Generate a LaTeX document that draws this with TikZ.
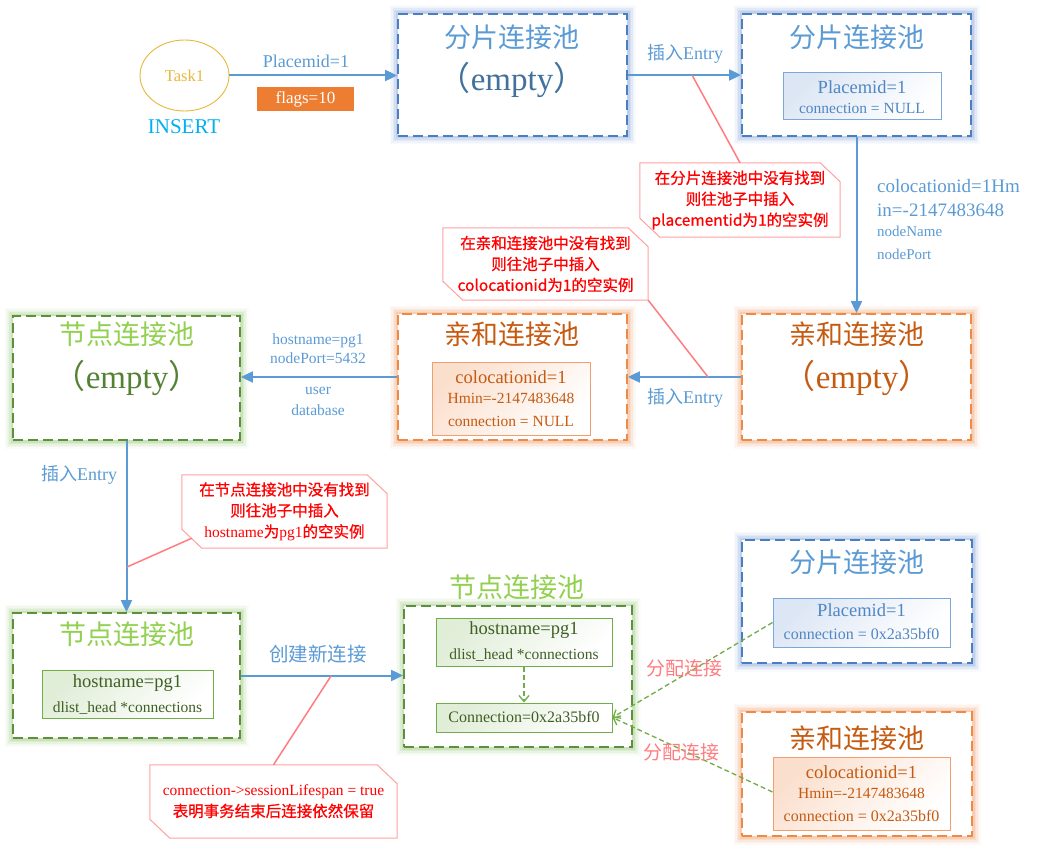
\documentclass[tikz,border=0pt]{standalone}
\usepackage{fontspec}
\setmainfont{Liberation Serif}
\newfontfamily\cjk{Noto Sans CJK SC}
\newfontfamily\cjknote{Noto Sans CJK SC}[FakeBold=0.8]
\usetikzlibrary{arrows.meta,calc,shapes.geometric}

\newcommand\fsz[1]{\fontsize{#1pt}{#1pt}\selectfont}

\definecolor{flowblue}{HTML}{5B9BD5}
\definecolor{bluebd}{HTML}{4A7EC0}
\definecolor{blueglow}{HTML}{8EADE0}
\definecolor{bluetitle}{HTML}{5B9BD5}
\definecolor{blueempty}{HTML}{41719C}
\definecolor{blueinbd}{HTML}{7BA7D9}
\definecolor{blueinfill}{HTML}{DCE6F4}
\definecolor{blueintext}{HTML}{5086C4}
\definecolor{orangebd}{HTML}{EE8A45}
\definecolor{orangeglow}{HTML}{F4A878}
\definecolor{orangetext}{HTML}{C55A11}
\definecolor{orangeinbd}{HTML}{F0A070}
\definecolor{orangeinfill}{HTML}{FBDFCD}
\definecolor{greenbd}{HTML}{5E8F3E}
\definecolor{greenglow}{HTML}{A5CF85}
\definecolor{greentitle}{HTML}{92D050}
\definecolor{greenempty}{HTML}{548235}
\definecolor{greeninbd}{HTML}{70AD47}
\definecolor{greeninfill}{HTML}{E0EDD7}
\definecolor{greenintext}{HTML}{3F5F24}
\definecolor{pinkline}{HTML}{FF7C80}
\definecolor{calloutbd}{HTML}{FFA0A0}
\definecolor{taskgold}{HTML}{E8B83A}
\definecolor{insertcyan}{HTML}{00B0F0}
\definecolor{flagorange}{HTML}{ED7D31}
\definecolor{assignpink}{HTML}{FF7C80}

\tikzset{
  flow/.style={draw=flowblue, line width=2pt, -{Triangle[length=12pt,width=11pt]}},
  poolbase/.style={rectangle, inner sep=0pt, fill=white, line width=1.8pt,
    dash pattern=on 10pt off 5pt},
  % soft halo round a pool: a few wide, faint strokes under the dashed frame
  glowing/.style={
    preaction={draw=#1, solid, line width=17pt, draw opacity=.06},
    preaction={draw=#1, solid, line width=14pt, draw opacity=.08},
    preaction={draw=#1, solid, line width=11pt, draw opacity=.12},
    preaction={draw=#1, solid, line width=8pt, draw opacity=.18},
    preaction={draw=#1, solid, line width=5pt, draw opacity=.28}},
  bluepool/.style={poolbase, glowing=blueglow, draw=bluebd},
  orangepool/.style={poolbase, glowing=orangeglow, draw=orangebd},
  greenpool/.style={poolbase, glowing=greenglow, draw=greenbd},
  innerbase/.style={rectangle, inner sep=0pt, line width=1pt},
  blueinner/.style={innerbase, draw=blueinbd, top color=blueinfill, bottom color=white, shading angle=45},
  orangeinner/.style={innerbase, draw=orangeinbd, top color=orangeinfill, bottom color=white, shading angle=45},
  greeninner/.style={innerbase, draw=greeninbd, top color=greeninfill, bottom color=white, shading angle=45},
  btitle/.style={text=bluetitle, font=\cjk\fsz{27}},
  otitle/.style={text=orangetext, font=\cjk\fsz{27}},
  gtitle/.style={text=greentitle, font=\cjk\fsz{27}},
  emptytxt/.style={font=\fsz{33}},
  bigline/.style={font=\fsz{18.5}},
  smallline/.style={font=\fsz{15.5}},
  flowlabel/.style={text=flowblue, font=\fsz{18}},
  notelabel/.style={text=flowblue, font=\fsz{15.5}},
  callout/.style={rectangle, inner sep=0pt, text=red, align=center,
    font=\cjknote\fontsize{15.5pt}{21pt}\selectfont},
  calloutline/.style={draw=calloutbd, line width=1pt},
  pinkconn/.style={draw=pinkline, line width=1.5pt},
  assign/.style={draw=greeninbd, line width=1.3pt, dash pattern=on 5pt off 3pt,
    -{Straight Barb[length=6pt,width=10pt]}},
  assignlabel/.style={text=assignpink, font=\cjk\fsz{19}},
  every node/.style={inner sep=0pt}
}

\begin{document}
\begin{tikzpicture}[x=1pt,y=-1pt]
\useasboundingbox (0,0) rectangle (1038,850);
\fill[white] (0,0) rectangle (1038,850);

% ---- connection pools ----
\node[bluepool, minimum width=229pt, minimum height=122pt] (b1) at (512.5,75) {};
\node[bluepool, minimum width=229pt, minimum height=122pt] (b2) at (856.5,75) {};
\node[orangepool, minimum width=229pt, minimum height=126pt] (b3) at (512.5,377) {};
\node[orangepool, minimum width=229pt, minimum height=126pt] (b4) at (856.5,377) {};
\node[greenpool, minimum width=227pt, minimum height=124pt] (b5) at (126.5,378) {};
\node[greenpool, minimum width=227pt, minimum height=125pt] (b6) at (126.5,675.5) {};
\node[greenpool, minimum width=228pt, minimum height=141pt] (b7) at (518,676.5) {};
\node[bluepool, minimum width=230pt, minimum height=123pt] (b8) at (857,601.5) {};
\node[orangepool, minimum width=230pt, minimum height=124pt] (b9) at (857,774) {};

% ---- pool titles ----
\node[btitle] (b1t) at (512,37) {分片连接池};
\node[btitle] (b2t) at (857,37) {分片连接池};
\node[otitle] (b3t) at (512,334) {亲和连接池};
\node[otitle] (b4t) at (857,334) {亲和连接池};
\node[gtitle] (b5t) at (127,334) {节点连接池};
\node[gtitle] (b6t) at (127,634) {节点连接池};
\node[gtitle] (b7t) at (517,587) {节点连接池};
\node[btitle] (b8t) at (857,562) {分片连接池};
\node[otitle] (b9t) at (857,738) {亲和连接池};

% ---- empty pools ----
\node[emptytxt, text=blueempty] (b1e) at (512,80) {{\cjk （}empty{\cjk ）}};
\node[emptytxt, text=orangetext] (b4e) at (857,378) {{\cjk （}empty{\cjk ）}};
\node[emptytxt, text=greenempty] (b5e) at (127,378) {{\cjk （}empty{\cjk ）}};

% ---- entries ----
\node[blueinner, minimum width=158pt, minimum height=47pt] (i2) at (862,96.5) {};
\node[bigline, text=blueintext] (i2a) at (862,87) {Placemid=1};
\node[smallline, text=blueintext] (i2b) at (862,108) {connection = NULL};

\node[orangeinner, minimum width=158pt, minimum height=73pt] (i3) at (511,398.5) {};
\node[bigline, text=orangetext] (i3a) at (511,377) {colocationid=1};
\node[smallline, text=orangetext] (i3b) at (511,398) {Hmin=-2147483648};
\node[smallline, text=orangetext] (i3c) at (511,421) {connection = NULL};

\node[greeninner, minimum width=171pt, minimum height=48pt] (i6) at (127.5,694) {};
\node[bigline, text=greenintext] (i6a) at (127.5,683) {hostname=pg1};
\node[smallline, text=greenintext] (i6b) at (127.5,708) {dlist\_head *connections};

\node[greeninner, minimum width=176pt, minimum height=48pt] (i7a) at (524,642) {};
\node[bigline, text=greenintext] (i7a1) at (524,630) {hostname=pg1};
\node[smallline, text=greenintext] (i7a2) at (524,655) {dlist\_head *connections};
\node[greeninner, minimum width=176pt, minimum height=29pt] (i7b) at (524,717.5) {};
\node[font=\fsz{16}, text=greenintext] (i7b1) at (524,717) {Connection=0x2a35bf0};

\node[blueinner, minimum width=177pt, minimum height=49pt] (i8) at (861.5,622.5) {};
\node[bigline, text=blueintext] (i8a) at (861.5,610) {Placemid=1};
\node[font=\fsz{16}, text=blueintext] (i8b) at (861.5,634) {connection = 0x2a35bf0};

\node[orangeinner, minimum width=177pt, minimum height=73pt] (i9) at (861.5,793.5) {};
\node[bigline, text=orangetext] (i9a) at (861.5,772) {colocationid=1};
\node[smallline, text=orangetext] (i9b) at (861.5,793) {Hmin=-2147483648};
\node[font=\fsz{16}, text=orangetext] (i9c) at (861.5,816) {connection = 0x2a35bf0};

% ---- task ----
\node[ellipse, draw=taskgold, line width=0.9pt, minimum width=89pt, minimum height=71pt,
      text=taskgold, font=\fsz{16.5}] (t1) at (184.5,75.5) {Task1};
\node[text=insertcyan, font=\fsz{21}] (ins) at (184,127) {INSERT};
\node[fill=flagorange, minimum width=97pt, minimum height=24pt, text=white, font=\fsz{17}] (flags) at (305.5,99) {flags=10};
\node[flowlabel] (l1) at (306,61) {Placemid=1};

% ---- flow arrows ----
\draw[flow] (t1.east) -- (t1.east -| b1.west);
\draw[flow] (b1.east) -- (b2.west);
\draw[flow] (b2.south) -- (b4.north);
\draw[flow] (b4.west) -- (b3.east);
\draw[flow] (b3.west) -- (b5.east |- b3.west);
\draw[flow] (b5.south) -- (b6.north);
\draw[flow] (b6.east) -- (b6.east -| b7.west);

% ---- arrow labels ----
\node[flowlabel] (l2) at (685,54) {{\cjk 插入}Entry};
\node[flowlabel] (l3) at (685,398) {{\cjk 插入}Entry};
\node[flowlabel] (l4) at (79,475) {{\cjk 插入}Entry};
\node[text=flowblue, font=\cjk\fsz{19.5}] (l5) at (318,654) {创建新连接};

\node[text=flowblue, font=\fsz{19}, anchor=west] (r1) at (877,186) {colocationid=1Hm};
\node[text=flowblue, font=\fsz{19}, anchor=west] (r2) at (877,210) {in=-2147483648};
\node[text=flowblue, font=\fsz{15}, anchor=west] (r3) at (877,231) {nodeName};
\node[text=flowblue, font=\fsz{15}, anchor=west] (r4) at (877,254) {nodePort};

\node[notelabel] (h1) at (318,341) {hostname=pg1};
\node[notelabel] (h2) at (318,358) {nodePort=5432};
\node[notelabel] (h3) at (318,391) {user};
\node[notelabel] (h4) at (318,410) {database};

% ---- connection sharing ----
\draw[assign] (i7a.south) -- (i7b.north);
\draw[assign] (i8.west) -- (i7b.east);
\draw[assign] (i9.west |- 0,792) -- (i7b.east);
\node[assignlabel] (a1) at (684,668) {分配连接};
\node[assignlabel] (a2) at (681,752) {分配连接};

% ---- notes ----
\node[callout, minimum width=200pt, minimum height=74pt] (c1) at (740,200)
  {在分片连接池中没有找到\\则往池子中插入\\placementid为1的空实例};
\node[callout, minimum width=205pt, minimum height=72pt] (c2) at (545.5,264)
  {在亲和连接池中没有找到\\则往池子中插入\\colocationid为1的空实例};
\node[callout, minimum width=205pt, minimum height=73pt] (c3) at (284.5,511.5)
  {在节点连接池中没有找到\\则往池子中插入\\{\rmfamily hostname}为{\rmfamily pg1}的空实例};
\node[callout, minimum width=247pt, minimum height=73pt] (c4) at (273.5,801.5)
  {{\rmfamily connection->sessionLifespan = true}\\表明事务结束后连接依然保留};

\foreach \c in {c1,c2,c3,c4}{
  \draw[calloutline] (\c.north west) -- ($(\c.north east)+(-20,0)$) -- ($(\c.north east)+(0,19)$)
    -- (\c.south east) -- ($(\c.south west)+(20,0)$) -- ($(\c.south west)+(0,-19)$) -- cycle;
}

\coordinate (k1) at (692,75);
\coordinate (k2) at (708,377);
\coordinate (k3) at (127,567);
\coordinate (k4) at (331,676);
\coordinate (c3tip) at ($(c3.south west)+(10,-10)$);
\draw[pinkconn] (k1) -- (c1.north);
\draw[pinkconn] (k2) -- (c2.south east);
\draw[pinkconn] (k3) -- (c3tip);
\draw[pinkconn] (k4) -- (c4.north);
\end{tikzpicture}
\end{document}
